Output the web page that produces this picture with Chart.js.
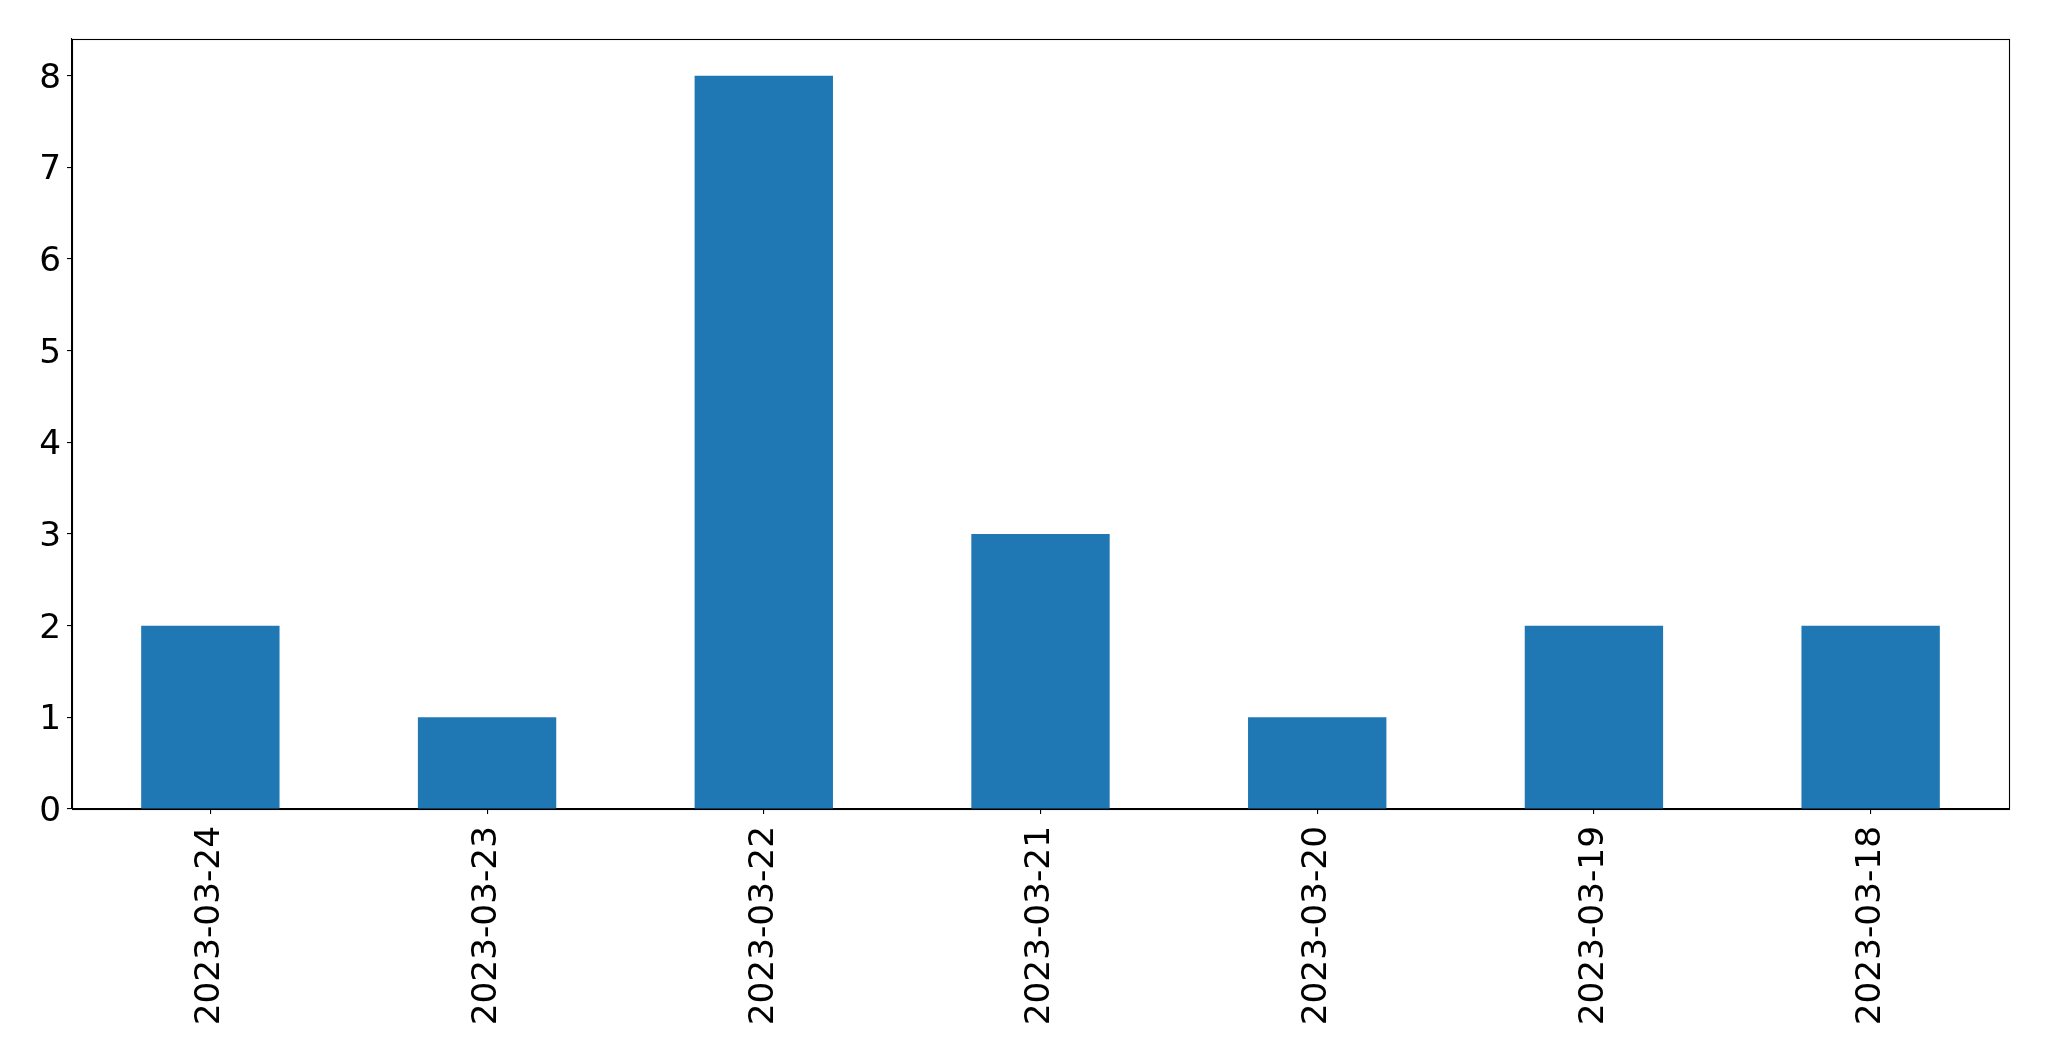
<!DOCTYPE html>
<html>
<head>
<meta charset="utf-8">
<script src="https://cdn.jsdelivr.net/npm/chart.js@4"></script>
<style>
  html, body { margin: 0; padding: 0; background: #fff; }
  #wrap { width: 2049px; height: 1061px; position: relative; }
</style>
</head>
<body>
<div id="wrap"><canvas id="c" width="2049" height="1061"></canvas></div>
<script>
const categories = ["2023-03-24", "2023-03-23", "2023-03-22", "2023-03-21", "2023-03-20", "2023-03-19", "2023-03-18"];
const counts = [2, 1, 8, 3, 1, 2, 2];
const yTicks = [0, 1, 2, 3, 4, 5, 6, 7, 8];

const frame = {
  id: 'frame',
  afterDatasetsDraw(chart) {
    const a = chart.chartArea, ctx = chart.ctx;
    ctx.save();
    ctx.strokeStyle = '#000';
    ctx.lineWidth = 1.1;
    ctx.strokeRect(Math.round(a.left) + 0.5, Math.round(a.top) + 0.5, Math.round(a.right - a.left), Math.round(a.bottom - a.top));
    ctx.restore();
  }
};

new Chart(document.getElementById('c'), {
  type: 'bar',
  data: {
    labels: categories,
    datasets: [{
      data: counts,
      backgroundColor: '#1f77b4',
      borderWidth: 0,
      categoryPercentage: 0.5,
      barPercentage: 1.0
    }]
  },
  plugins: [frame],
  options: {
    responsive: false,
    animation: false,
    devicePixelRatio: 1,
    layout: { padding: { top: 39, right: 40, left: 0, bottom: 0 } },
    plugins: { legend: { display: false }, tooltip: { enabled: false } },
    scales: {
      x: {
        offset: true,
        grid: { display: true, drawOnChartArea: false, drawTicks: true, tickLength: 5, color: '#000', lineWidth: 1.1, offset: false },
        border: { display: true, color: '#000', width: 1.1 },
        ticks: {
          color: '#000',
          font: { family: 'DejaVu Sans', size: 34.3 },
          minRotation: 90, maxRotation: 90,
          autoSkip: false,
          padding: 12
        },
        afterFit(scale) { scale.height = 252; }
      },
      y: {
        min: 0, max: 8.4,
        grid: { display: true, drawOnChartArea: false, drawTicks: true, tickLength: 5, color: '#000', lineWidth: 1.1 },
        border: { display: true, color: '#000', width: 1.1 },
        afterBuildTicks(scale) { scale.ticks = yTicks.map(v => ({ value: v })); },
        ticks: {
          color: '#000',
          font: { family: 'DejaVu Sans', size: 34.3 },
          padding: 6,
          labelOffset: 3,
          includeBounds: false
        },
        afterFit(scale) { scale.width = 72; }
      }
    }
  }
});
</script>
</body>
</html>
